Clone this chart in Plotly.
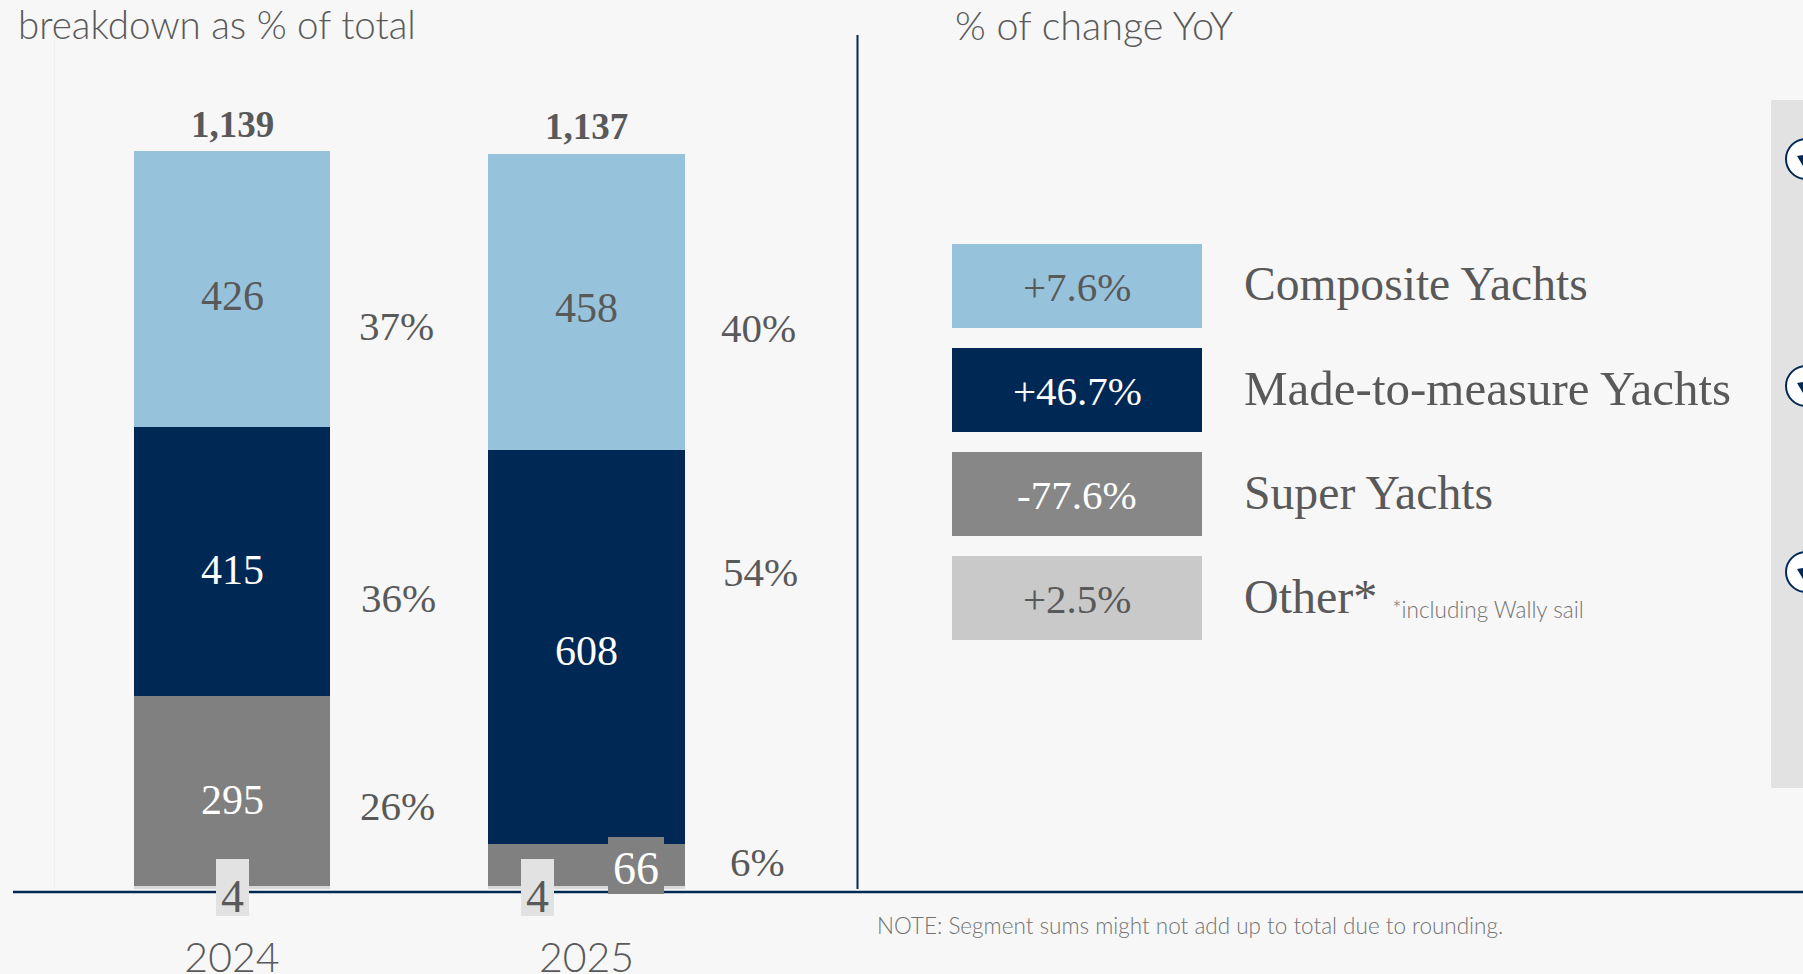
import plotly.graph_objects as go

W, H = 1803, 974
BG = "#f7f7f7"
NAVY = "#002855"
BLUE = "#97c2dc"
GREY = "#808080"
LIGHT = "#e2e2e2"
TEXT = "#595959"
SERIF = "Liberation Serif"
SANS = "Lato"

years = ["2024", "2025"]
composite = [426, 458]
made_to_measure = [415, 608]
super_yachts = [295, 66]
other = [4, 4]
totals = [1139, 1137]
share_composite = ["37%", "40%"]
share_mtm = ["36%", "54%"]
share_super = ["26%", "6%"]
legend_names = ["Composite Yachts", "Made-to-measure Yachts", "Super Yachts", "Other*"]
legend_changes = ["+7.6%", "+46.7%", "-77.6%", "+2.5%"]
legend_colors = [BLUE, NAVY, "#878787", "#c9c9c9"]
legend_text_colors = [TEXT, "#ffffff", "#ffffff", TEXT]
legend_sizes = [47.6, 49, 47.7, 48]


def px(x):
    return x / W


def py(y):
    return 1 - y / H


fig = go.Figure()
for name, vals, col in [
    ("Other", other, "#d9d9d9"),
    ("Super Yachts", super_yachts, GREY),
    ("Made-to-measure Yachts", made_to_measure, NAVY),
    ("Composite Yachts", composite, BLUE),
]:
    fig.add_bar(x=years, y=vals, name=name, marker=dict(color=col, line=dict(width=0)), width=0.555)

shapes = []
annots = []


def rect(x0, y0, x1, y1, color, layer="above"):
    shapes.append(dict(type="rect", xref="paper", yref="paper", x0=px(x0), x1=px(x1), y0=py(y1), y1=py(y0),
                       fillcolor=color, line=dict(width=0), layer=layer))


def label(x, y, text, size, color=TEXT, font=SERIF, anchor="center", weight=None):
    f = dict(family=font, size=size, color=color)
    if weight:
        f["weight"] = weight
    annots.append(dict(xref="paper", yref="paper", x=px(x), y=py(y), text=text, showarrow=False,
                       xanchor=anchor, yanchor="middle", font=f))


# axis rules and side panel
shapes.append(dict(type="line", xref="paper", yref="paper", x0=px(13), x1=1, y0=py(892), y1=py(892),
                   line=dict(color=NAVY, width=2.5), layer="below"))
shapes.append(dict(type="line", xref="paper", yref="paper", x0=px(857.5), x1=px(857.5), y0=py(35), y1=py(889),
                   line=dict(color=NAVY, width=2), layer="below"))
rect(1771, 100, 1803, 788, LIGHT, "below")
for cy in [159, 386, 572]:
    shapes.append(dict(type="circle", xref="paper", yref="paper", x0=px(1786), x1=px(1826), y0=py(cy + 20), y1=py(cy - 20),
                       fillcolor="#ffffff", line=dict(color=NAVY, width=2), layer="above"))
    shapes.append(dict(type="path", xref="paper", yref="paper",
                       path=f"M {px(1797)} {py(cy - 3)} L {px(1803)} {py(cy - 4)} L {px(1803)} {py(cy + 7)} Z",
                       fillcolor=NAVY, line=dict(width=0), layer="above"))

# small-value label boxes
rect(216, 859, 249, 916, LIGHT)
rect(521, 859, 554, 916, LIGHT)
rect(608, 837, 664, 894, GREY)

# titles and notes
label(16, 24, "breakdown as % of total", 38.5, font=SANS, anchor="left", weight=300)
label(953, 24, "% of change YoY", 39.5, font=SANS, anchor="left", weight=300)
label(875, 925, "NOTE: Segment sums might not add up to total due to rounding.", 22.5, "#737373", SANS, "left", 300)
label(1390, 609, "*including Wally sail", 22.5, "#737373", SANS, "left", 300)

# bar labels
for cx, total, c, m, s, o, sc, sm, ss, ty, ys, pys, xps in [
    (232, totals[0], composite[0], made_to_measure[0], super_yachts[0], other[0], share_composite[0], share_mtm[0], share_super[0],
     125, (296, 570, 800, 896), (326, 598, 806), (396, 398, 397)),
    (586.5, totals[1], composite[1], made_to_measure[1], super_yachts[1], other[1], share_composite[1], share_mtm[1], share_super[1],
     127, (308, 651, 868, 896), (328, 572, 862), (758, 760, 757)),
]:
    label(cx, ty, f"{total:,}", 37, weight=700)
    label(cx, ys[0], str(c), 42)
    label(cx, ys[1], str(m), 42, "#ffffff")
    if s > 100:
        label(cx, ys[2], str(s), 42, "#ffffff")
    else:
        label(636, ys[2], str(s), 46, "#ffffff")
    label(cx if cx < 300 else 537, ys[3], str(o), 46)
    label(xps[0], pys[0], sc, 41)
    label(xps[1], pys[1], sm, 41)
    label(xps[2], pys[2], ss, 41)

# legend
for (y0, y1), name, chg, col, tc, sz in zip(
    [(244, 328), (348, 432), (452, 536), (556, 640)], legend_names, legend_changes, legend_colors, legend_text_colors, legend_sizes
):
    rect(952, y0, 1202, y1, col, "below")
    label(1077, (y0 + y1) / 2 + 1, chg, 41, tc)
    label(1242, (y0 + y1) / 2 - 2, name, sz, anchor="left")

fig.update_layout(
    barmode="stack",
    width=W,
    height=H,
    margin=dict(l=0, r=0, t=0, b=0, autoexpand=False),
    paper_bgcolor=BG,
    plot_bgcolor=BG,
    showlegend=False,
    shapes=shapes,
    annotations=annots,
    xaxis=dict(
        type="category",
        domain=[px(55), px(857)],
        range=[-0.499, 1.763],
        showline=False,
        showgrid=False,
        zeroline=False,
        ticks="",
        ticklabelstandoff=41,
        tickfont=dict(family=SANS, size=41, color=TEXT, weight=300),
    ),
    yaxis=dict(
        domain=[py(889), py(35)],
        range=[0, 1320],
        showgrid=False,
        zeroline=False,
        showticklabels=False,
        ticks="",
        showline=True,
        linecolor="#f0f0f0",
        linewidth=1,
    ),
)

fig.write_html(
    "out.html",
    config=dict(displayModeBar=False),
    post_script=(
        "document.body.style.margin='0';document.body.style.background='%s';"
        "document.documentElement.style.overflow='hidden';document.body.style.overflow='hidden';" % BG
    ),
)
